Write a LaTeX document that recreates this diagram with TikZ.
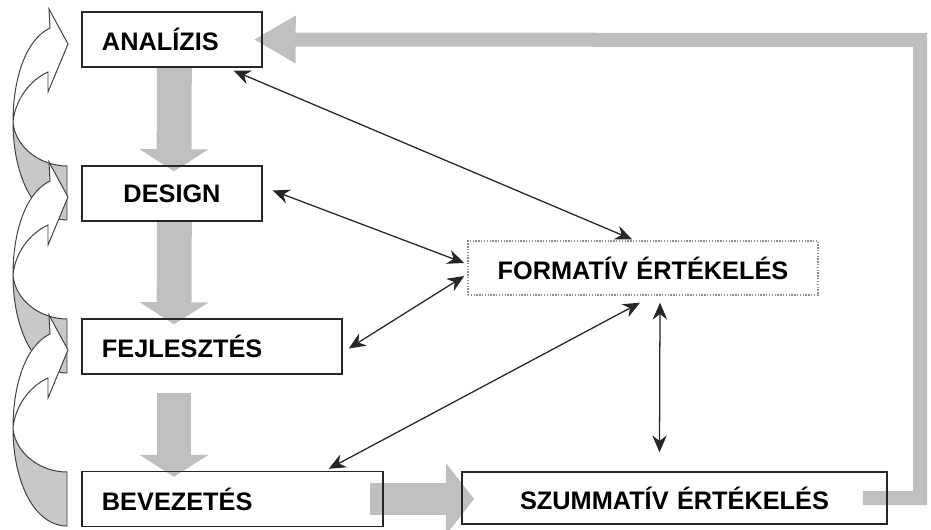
\documentclass[tikz,border=0pt]{standalone}
\usepackage{fontspec}
\setmainfont{Liberation Sans}
\usetikzlibrary{arrows.meta,backgrounds}
\definecolor{flowgray}{RGB}{191,191,191}
\definecolor{backgray}{RGB}{200,200,200}

\begin{document}
\begin{tikzpicture}[x=0.025cm,y=-0.025cm,
    phase/.style={draw=black!85,line width=1pt,inner xsep=0.5cm,inner ysep=0pt,minimum height=1.375cm,font=\fontsize{18}{21}\selectfont\bfseries},
    fatarrow/.style={draw=flowgray,line width=0.87cm,-{Triangle[width=1.7cm,length=0.55cm]}},
    returnarrow/.style={draw=flowgray,line width=0.35cm,-{Triangle[width=1.12cm,length=1.05cm]}},
    dblarrow/.style={draw=black!85,line width=0.9pt,{Stealth[length=0.42cm,width=0.36cm]}-{Stealth[length=0.42cm,width=0.36cm]}},
    twist/.style={draw=black!75,line width=0.7pt}]
    \useasboundingbox (0,0) rectangle (931,530);
    % twisted arrows on the left
    \begin{scope}[shift={(0,-306)}]
      \filldraw[twist,fill=backgray] (13,428) .. controls (13,483) and (35,526) .. (67,526) -- (67,472) .. controls (40,472) and (15,453) .. (13,428) -- cycle;
      \filldraw[twist,fill=white] (13,428) .. controls (13,386) and (25,346) .. (50,334) -- (49,315) -- (68,350) -- (48,398) -- (48,378) .. controls (30,386) and (15,406) .. (13,428) -- cycle;
    \end{scope}
    \begin{scope}[shift={(0,-153)}]
      \filldraw[twist,fill=backgray] (13,428) .. controls (13,483) and (35,526) .. (67,526) -- (67,472) .. controls (40,472) and (15,453) .. (13,428) -- cycle;
      \filldraw[twist,fill=white] (13,428) .. controls (13,386) and (25,346) .. (50,334) -- (49,315) -- (68,350) -- (48,398) -- (48,378) .. controls (30,386) and (15,406) .. (13,428) -- cycle;
    \end{scope}
    \filldraw[twist,fill=backgray] (13,428) .. controls (13,483) and (35,526) .. (67,526) -- (67,472) .. controls (40,472) and (15,453) .. (13,428) -- cycle;
    \filldraw[twist,fill=white] (13,428) .. controls (13,386) and (25,346) .. (50,334) -- (49,315) -- (68,350) -- (48,398) -- (48,378) .. controls (30,386) and (15,406) .. (13,428) -- cycle;
    % phases
    \node[phase,text width=3.5cm,align=left] (analizis) at (172,39.5) {ANALÍZIS};
    \node[phase,text width=3.5cm,align=center] (design) at (172,193.5) {DESIGN};
    \node[phase,text width=5.5cm,align=left] (fejlesztes) at (212,346.5) {FEJLESZTÉS};
    \node[phase,text width=6.525cm,align=left] (bevezetes) at (232.5,499) {BEVEZETÉS};
    \node[phase,draw=black!45,densely dotted,text width=7.75cm,align=center,minimum height=1.35cm] (formativ) at (643,268) {FORMATÍV ÉRTÉKELÉS};
    \node[phase,text width=9.625cm,align=center,minimum height=1.3cm] (szummativ) at (674.5,498) {SZUMMATÍV ÉRTÉKELÉS};
    % gray flow
    \begin{scope}[on background layer]
      \draw[fatarrow] ([xshift=0.06cm]analizis.south) -- ([shift={(2,6)}]design.north);
      \draw[fatarrow] ([xshift=0.06cm]design.south) -- ([shift={(2,6)}]design.south |- fejlesztes.north);
      \draw[fatarrow,shorten <=0.45cm] ([shift={(2,0)}]design.south |- fejlesztes.south) -- ([shift={(2,6)}]design.south |- bevezetes.north);
      \draw[fatarrow,line width=0.78cm,-{Triangle[width=1.75cm,length=0.7cm]}] ([xshift=-0.35cm]bevezetes.east) -- ([xshift=0.32cm]bevezetes.east -| szummativ.west);
      \draw[returnarrow] ([xshift=-0.625cm]szummativ.east) -| (920,40) -- ([xshift=-0.225cm]analizis.east);
    \end{scope}
    % feedback
    \draw[dblarrow] ([shift={(-29,3)}]analizis.south east) -- ([shift={(-11,-1)}]formativ.north);
    \draw[dblarrow] ([shift={(10,-3)}]design.east) -- ([shift={(-3,-5)}]formativ.west);
    \draw[dblarrow] ([shift={(6,2)}]fejlesztes.east) -- ([shift={(-3,8)}]formativ.west);
    \draw[dblarrow] ([shift={(-55,-2)}]bevezetes.north east) -- ([shift={(-3,7)}]formativ.south);
    \draw[dblarrow] ([shift={(17,7)}]formativ.south) -- ([shift={(-15,-19)}]szummativ.north);
\end{tikzpicture}
\end{document}
